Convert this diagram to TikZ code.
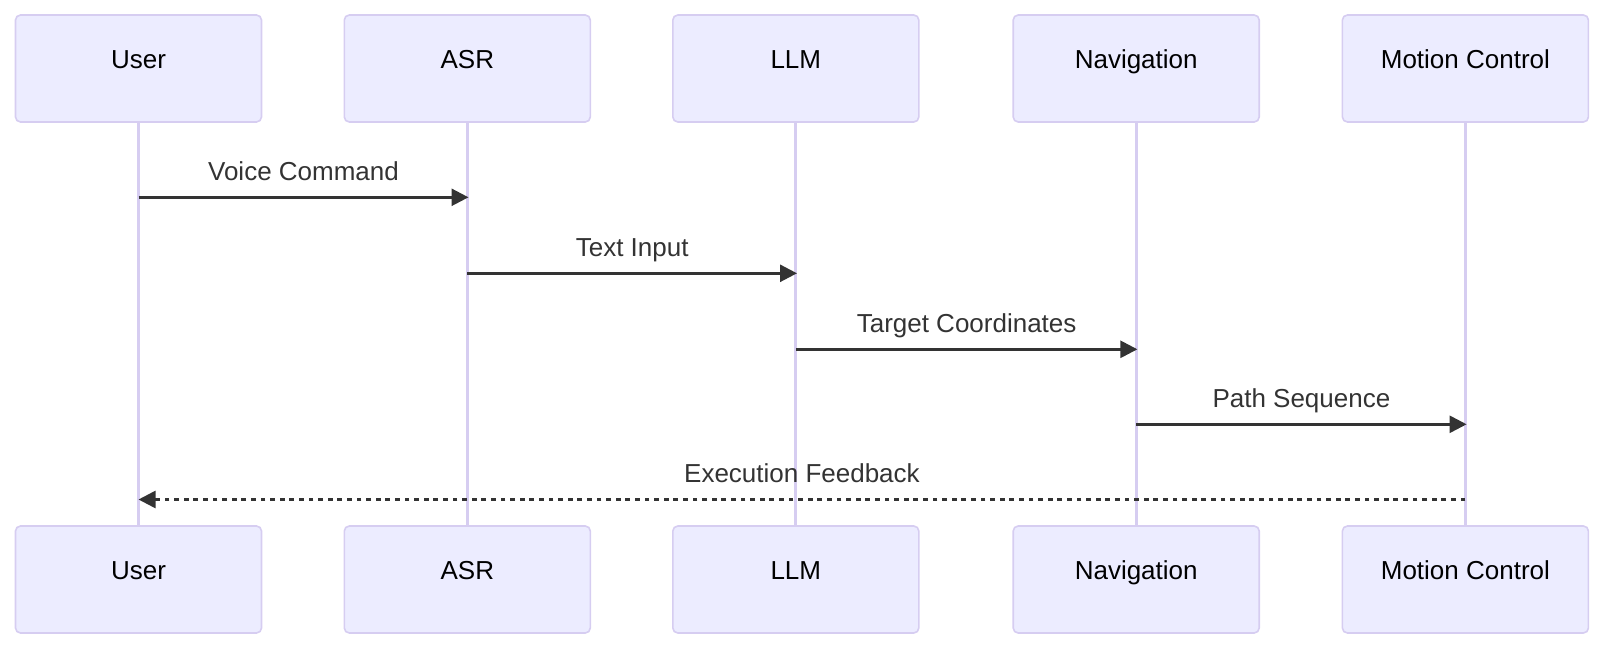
\documentclass[tikz,border=0pt]{standalone}
\usepackage{fontspec}
\setmainfont{Liberation Sans}
\usetikzlibrary{arrows.meta,calc}
\definecolor{actfill}{HTML}{ECECFF}
\definecolor{actline}{HTML}{D6CDF1}
\definecolor{msg}{HTML}{333333}
\begin{document}
\begin{tikzpicture}[x=1pt,y=-1pt,
  actor/.style={draw=actline, line width=1.6pt, fill=actfill, rounded corners=5pt,
    minimum width=246pt, minimum height=107pt, inner sep=0pt,
    text height=9pt, text depth=9pt, font=\fontsize{26}{30}\selectfont},
  life/.style={draw=actline, line width=3pt},
  msgarrow/.style={draw=msg, line width=2.6pt, -{Triangle[length=17pt,width=17pt]}},
  reply/.style={msgarrow, dash pattern=on 4.8pt off 4.8pt},
  msglabel/.style={anchor=base, text=msg, font=\fontsize{26}{30}\selectfont}]
\useasboundingbox (0,0) rectangle (1608,664);
% lifelines (drawn first)
\foreach \n/\x in {u/138.5,a/467.3,l/795.8,n/1136.2,m/1465.4}{
  \draw[life] (\x,122) -- (\x,526);
}
% top actors
\node[actor] (u1) at (138.5,68.5) {User};
\node[actor] (a1) at (467.3,68.5) {ASR};
\node[actor] (l1) at (795.8,68.5) {LLM};
\node[actor] (n1) at (1136.2,68.5) {Navigation};
\node[actor] (m1) at (1465.4,68.5) {Motion Control};
% bottom actors
\node[actor] (u2) at (138.5,579.5) {User};
\node[actor] (a2) at (467.3,579.5) {ASR};
\node[actor] (l2) at (795.8,579.5) {LLM};
\node[actor] (n2) at (1136.2,579.5) {Navigation};
\node[actor] (m2) at (1465.4,579.5) {Motion Control};
% message points on lifelines
\coordinate (s1) at (138.5,197.3);  \coordinate (e1) at (468.5,197.3);
\coordinate (s2) at (467.3,273.3);  \coordinate (e2) at (797,273.3);
\coordinate (s3) at (795.8,349.3);  \coordinate (e3) at (1137.4,349.3);
\coordinate (s4) at (1136.2,424.3); \coordinate (e4) at (1466.6,424.3);
\coordinate (s5) at (1465.4,499.5); \coordinate (e5) at (138.5,499.5);
% messages
\draw[msgarrow] (s1) -- (e1);
\node[msglabel] (t1) at ($(s1)!0.5!(e1)+(0,-17)$) {Voice Command};
\draw[msgarrow] (s2) -- (e2);
\node[msglabel] (t2) at ($(s2)!0.5!(e2)+(0,-17)$) {Text Input};
\draw[msgarrow] (s3) -- (e3);
\node[msglabel] (t3) at ($(s3)!0.5!(e3)+(0,-17)$) {Target Coordinates};
\draw[msgarrow] (s4) -- (e4);
\node[msglabel] (t4) at ($(s4)!0.5!(e4)+(0,-17)$) {Path Sequence};
\draw[reply] (s5) -- (e5);
\node[msglabel] (t5) at ($(s5)!0.5!(e5)+(0,-17)$) {Execution Feedback};
\end{tikzpicture}
\end{document}
